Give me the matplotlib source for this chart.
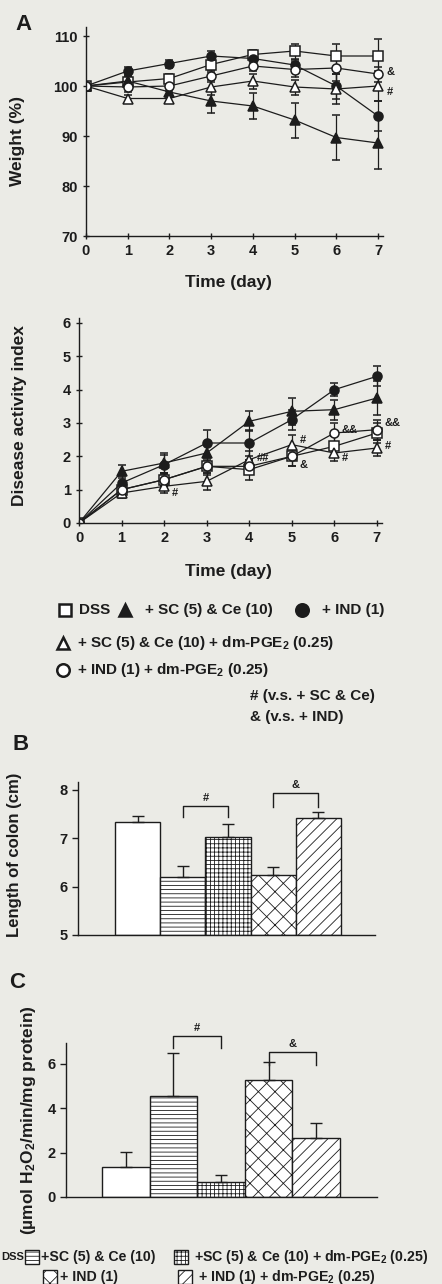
import matplotlib
matplotlib.use('Agg')
import matplotlib.pyplot as plt
from matplotlib.lines import Line2D
from matplotlib.patches import Rectangle

plt.rcParams['font.family'] = ['Liberation Sans', 'DejaVu Sans']
plt.rcParams['font.weight'] = 'bold'
plt.rcParams['axes.labelweight'] = 'bold'
plt.rcParams['mathtext.fontset'] = 'custom'
plt.rcParams['mathtext.rm'] = 'Liberation Sans:bold'
plt.rcParams['mathtext.it'] = 'Liberation Sans:bold'
plt.rcParams['mathtext.bf'] = 'Liberation Sans:bold'
plt.rcParams['hatch.linewidth'] = 0.6

# ---- data ----
days = [0, 1, 2, 3, 4, 5, 6, 7]

# body weight (%)
dss_w = [100, 100.8, 101.5, 104.3, 106.3, 107.0, 106.0, 106.0]
dss_w_err = [0, 1.0, 1.0, 1.5, 1.0, 1.5, 2.5, 3.5]
sc_w = [100, 101.0, 98.8, 97.0, 96.0, 93.2, 89.7, 88.6]
sc_w_err = [0, 1.0, 1.0, 2.3, 2.6, 3.5, 4.5, 5.2]
ind_w = [100, 103.0, 104.5, 106.0, 105.5, 104.2, 100.0, 94.0]
ind_w_err = [0, 0.8, 0.8, 1.0, 1.0, 1.0, 2.5, 3.0]
scp_w = [100, 97.5, 97.5, 99.8, 101.0, 99.8, 99.4, 100.0]
scp_w_err = [0, 0.8, 0.8, 1.5, 1.5, 1.5, 3.0, 3.0]
indp_w = [100, 99.8, 100.0, 102.0, 104.0, 103.3, 103.6, 102.4]
indp_w_err = [0, 1.0, 1.0, 1.2, 1.0, 1.5, 2.5, 1.5]

# disease activity index
dss_d = [0, 1.0, 1.3, 1.7, 1.6, 2.0, 2.3, 2.7]
dss_d_err = [0, 0.15, 0.2, 0.25, 0.3, 0.3, 0.3, 0.3]
sc_d = [0, 1.55, 1.8, 2.1, 3.05, 3.35, 3.4, 3.75]
sc_d_err = [0, 0.2, 0.3, 0.3, 0.3, 0.4, 0.3, 0.5]
ind_d = [0, 1.2, 1.75, 2.4, 2.4, 3.1, 4.0, 4.4]
ind_d_err = [0, 0.2, 0.3, 0.4, 0.4, 0.3, 0.2, 0.3]
scp_d = [0, 0.9, 1.1, 1.25, 1.9, 2.35, 2.1, 2.25]
scp_d_err = [0, 0.15, 0.2, 0.25, 0.25, 0.3, 0.25, 0.25]
indp_d = [0, 1.0, 1.3, 1.7, 1.7, 2.0, 2.7, 2.8]
indp_d_err = [0, 0.15, 0.2, 0.2, 0.2, 0.3, 0.3, 0.3]

# significance marks: (day, value, text)
w_marks = [(7, 102.8, '&'), (7, 98.8, '#')]
d_marks = [(2, 0.9, '#'), (4, 1.95, '##'), (5, 2.5, '#'), (5, 1.75, '&'),
           (6, 2.8, '&&'), (6, 1.95, '#'), (7, 3.0, '&&'), (7, 2.3, '#')]

groups = ['DSS', '+SC (5) & Ce (10)', '+SC (5) & Ce (10) + dm-PGE$_2$ (0.25)',
          '+ IND (1)', '+ IND (1) + dm-PGE$_2$ (0.25)']
colon_len = [7.33, 6.19, 7.02, 6.24, 7.42]
colon_err = [0.12, 0.23, 0.27, 0.16, 0.13]
mpo = [1.36, 4.56, 0.67, 5.27, 2.65]
mpo_err = [0.68, 1.92, 0.32, 0.80, 0.68]
hatches = ['', '----', '++++', 'xx', '///']

INK = '#1c1c1c'
BG = '#ebebe6'
W, H = 442, 1284


def box(l, r, t, b):
    return [l / W, 1 - b / H, (r - l) / W, (b - t) / H]


def fx(px):
    return px / W


def fy(py):
    return 1 - py / H


def style_axes(ax):
    ax.set_facecolor('none')
    for s in ['top', 'right']:
        ax.spines[s].set_visible(False)
    for s in ['left', 'bottom']:
        ax.spines[s].set_color(INK)
        ax.spines[s].set_linewidth(1.0)
    ax.tick_params(colors=INK, labelsize=10.5, width=1.0)


def place_labels(ax, ylab, ypos, xlab=None, xpos=None, size=12.5):
    ax.set_ylabel(ylab, fontsize=size, color=INK, va='center')
    ax.yaxis.set_label_coords(fx(ypos[0]), fy(ypos[1]), transform=fig.transFigure)
    if xlab:
        ax.set_xlabel(xlab, fontsize=size, color=INK, va='center')
        ax.xaxis.set_label_coords(fx(xpos[0]), fy(xpos[1]), transform=fig.transFigure)


fig = plt.figure(figsize=(W / 100, H / 100), dpi=100, facecolor=BG)

series = [
    ('s', 'white', dss_w, dss_w_err, dss_d, dss_d_err),
    ('^', INK, sc_w, sc_w_err, sc_d, sc_d_err),
    ('o', INK, ind_w, ind_w_err, ind_d, ind_d_err),
    ('^', 'white', scp_w, scp_w_err, scp_d, scp_d_err),
    ('o', 'white', indp_w, indp_w_err, indp_d, indp_d_err),
]

# ---- panel A: weight ----
ax1 = fig.add_axes(box(86, 383, 27, 236))
style_axes(ax1)
for m, fc, y, e, _, _ in series:
    ax1.errorbar(days, y, yerr=e, color=INK, lw=0.9, marker=m, ms=6.5, mfc=fc,
                 mec=INK, mew=1.1, elinewidth=0.9, capsize=3, capthick=0.9)
for d, v, t in w_marks:
    ax1.text(d + 0.2, v, t, fontsize=8, color=INK, va='center', ha='left', clip_on=False)
ax1.set_xlim(0, 7.12)
ax1.set_ylim(70, 111.8)
ax1.set_xticks(days)
ax1.set_yticks([70, 80, 90, 100, 110])
ax1.tick_params(direction='inout', length=5)
place_labels(ax1, 'Weight (%)', (18, 141), 'Time (day)', (228, 283))

# ---- panel A: disease activity index ----
ax2 = fig.add_axes(box(79, 382, 318, 523))
style_axes(ax2)
for m, fc, _, _, y, e in series:
    ax2.errorbar(days, y, yerr=e, color=INK, lw=0.9, marker=m, ms=6.5, mfc=fc,
                 mec=INK, mew=1.1, elinewidth=0.9, capsize=3, capthick=0.9)
for d, v, t in d_marks:
    ax2.text(d + 0.18, v, t, fontsize=8, color=INK, va='center', ha='left', clip_on=False)
ax2.set_xlim(0, 7.12)
ax2.set_ylim(0, 6.15)
ax2.set_xticks(days)
ax2.set_yticks(range(7))
ax2.tick_params(direction='inout', length=5)
place_labels(ax2, 'Disease activity index', (20, 416), 'Time (day)', (228, 572))

# ---- legend for line plots ----
leg_rows = [
    (610, [(65, 's', 'white', 79, 'DSS'), (125, '^', INK, 145, '+ SC (5) & Ce (10)'),
           (302, 'o', INK, 322, '+ IND (1)')]),
    (643, [(63, '^', 'white', 77, '+ SC (5) & Ce (10) + dm-PGE$_2$ (0.25)')]),
    (670, [(63, 'o', 'white', 77, '+ IND (1) + dm-PGE$_2$ (0.25)')]),
]
for py, items in leg_rows:
    for mx, m, fc, tx, label in items:
        fig.add_artist(Line2D([fx(mx)], [fy(py)], marker=m, ms=9, mfc=fc, mec=INK,
                              mew=1.8, ls='none', transform=fig.transFigure))
        fig.text(fx(tx), fy(py), label, fontsize=11, color=INK, va='center', ha='left')
fig.text(fx(250), fy(696), '# (v.s. + SC & Ce)', fontsize=11, color=INK, va='center')
fig.text(fx(250), fy(717), '& (v.s. + IND)', fontsize=11, color=INK, va='center')


def bar_panel(ax, vals, errs, base, ylim, xlim, brackets):
    pos = list(range(len(vals)))
    heights = [v - base for v in vals]
    bars = ax.bar(pos, heights, width=1.0, bottom=base, color='white', edgecolor=INK,
                  linewidth=1.0, zorder=2)
    for b, h in zip(bars, hatches):
        b.set_hatch(h)
    ax.errorbar(pos, vals, yerr=[[0] * len(errs), errs], fmt='none', ecolor=INK,
                elinewidth=1.0, capsize=4, capthick=1.0, zorder=3)
    for i, j, top, drop, t in brackets:
        ax.plot([i, i, j, j], [drop, top, top, drop], color=INK, lw=1.0, clip_on=False)
        ax.text((i + j) / 2, top + (ylim[1] - ylim[0]) * 0.02, t, fontsize=8,
                color=INK, ha='center', va='bottom', clip_on=False)
    ax.set_xlim(*xlim)
    ax.set_ylim(*ylim)
    ax.set_xticks([])
    ax.tick_params(direction='out', length=4)


# ---- panel B: colon length ----
ax3 = fig.add_axes(box(78, 375, 782, 935))
style_axes(ax3)
bar_panel(ax3, colon_len, colon_err, 5, (5, 8.16), (-1.32, 5.25),
          [(1, 2, 7.67, 7.44, '#'), (3, 4, 7.94, 7.65, '&')])
ax3.set_yticks([5, 6, 7, 8])
place_labels(ax3, 'Length of colon (cm)', (15, 855), size=12)

# ---- panel C: MPO ----
ax4 = fig.add_axes(box(66, 377, 1043, 1197))
style_axes(ax4)
bar_panel(ax4, mpo, mpo_err, 0, (0, 6.94), (-1.26, 5.28),
          [(1, 2, 7.25, 6.7, '#'), (3, 4, 6.53, 5.95, '&')])
ax4.set_yticks([0, 2, 4, 6])
place_labels(ax4, '(\u00b5mol H$_2$O$_2$/min/mg protein)', (29, 1120), size=12.5)

# panel letters
fig.text(fx(24), fy(25), 'A', fontsize=16, color=INK, ha='center', va='center')
fig.text(fx(21), fy(745), 'B', fontsize=16, color=INK, ha='center', va='center')
fig.text(fx(17), fy(983), 'C', fontsize=16, color=INK, ha='center', va='center')

# ---- legend for bar panels ----
fig.text(fx(1), fy(1257), 'DSS', fontsize=8, color=INK, ha='left', va='center')
leg_items = [(1257, 25, 41, 1, groups[1]), (1257, 174, 194, 2, groups[2]),
             (1277, 43, 60, 3, groups[3]), (1277, 178, 198, 4, groups[4])]
for py, bx, tx, k, label in leg_items:
    fig.add_artist(Rectangle((fx(bx), fy(py + 7)), 14 / W, 14 / H, facecolor='white',
                             edgecolor=INK, lw=1.0, hatch=hatches[k],
                             transform=fig.transFigure))
    fig.text(fx(tx), fy(py), label, fontsize=10.2, color=INK, ha='left', va='center')

fig.savefig('out.png', dpi=100, facecolor=BG)
